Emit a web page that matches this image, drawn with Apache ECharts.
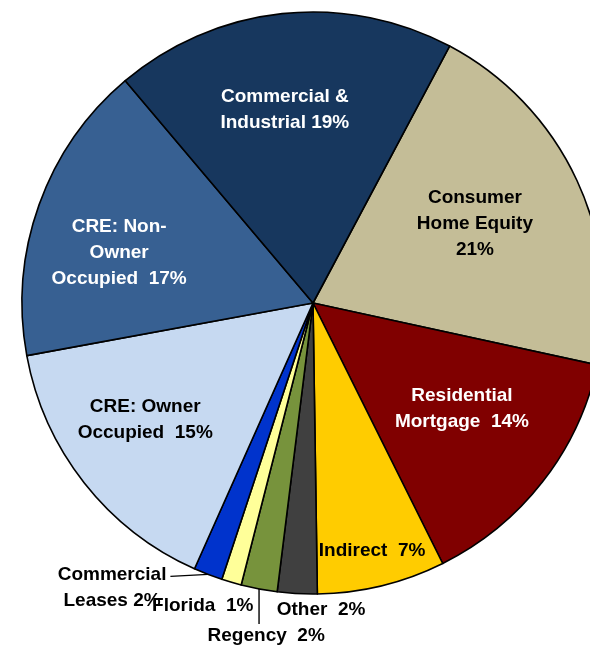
<!DOCTYPE html>
<html>
<head>
<meta charset="utf-8">
<script src="https://cdn.jsdelivr.net/npm/echarts@6/dist/echarts.min.js"></script>
<style>
html,body{margin:0;padding:0;background:#fff;}
#chart{width:590px;height:647px;}
</style>
</head>
<body>
<div id="chart"></div>
<script>
// slices, clockwise from the top-right edge of Commercial & Industrial
var categories = ['Consumer\nHome Equity', 'Residential\nMortgage', 'Indirect', 'Other', 'Regency', 'Florida', 'Commercial\nLeases', 'CRE: Owner\nOccupied', 'CRE: Non-\nOwner\nOccupied', 'Commercial &\nIndustrial'];
var shares = [20.6, 14.2, 7.1, 2.2, 2.0, 1.1, 1.6, 15.4, 16.7, 18.9];
var joiners = ['\n', '  ', '  ', '  ', '  ', '  ', ' ', '  ', '  ', ' '];

var colors = ['#C4BD97', '#800000', '#FFCC00', '#404040', '#77933C', '#FFFF99', '#0033CC', '#C6D9F1', '#376092', '#17375E'];
var textColors = ['#000', '#fff', '#000', '#000', '#000', '#000', '#000', '#000', '#fff', '#fff'];

var cx = 313, cy = 303, R = 291, startDeg = 62;
// label anchor: [fraction of radius, degrees clockwise from top]
var labelSpots = [[0.619, 64.0], [0.628, 125.4], [0.876, 166.6], [1.055, 178.5], [1.156, 188.0], [1.108, 200.0], [1.198, 215.2], [0.703, 235.1], [0.688, 284.5], [0.670, 351.7]];
var leaders = {4: 'down', 6: 'left'};

var total = 0;
for (var i = 0; i < shares.length; i++) total += shares[i];

function midAngle(idx) {
	var before = 0;
	for (var k = 0; k < idx; k++) before += shares[k];
	return (90 - startDeg) + 360 * (before + shares[idx] / 2) / total;
}

var myChart = echarts.init(document.getElementById('chart'));

var data = [];
for (var j = 0; j < categories.length; j++) {
	var outside = labelSpots[j][0] > 1;
	data.push({
		name: categories[j],
		value: shares[j],
		itemStyle: {color: colors[j]},
		label: {position: outside ? 'outside' : 'inside', color: textColors[j]},
		labelLine: {show: leaders[j] != undefined}
	});
}

var option = {
	animation: false,
	series: [{
		type: 'pie',
		center: [cx, cy],
		radius: R,
		startAngle: startDeg,
		clockwise: true,
		silent: true,
		avoidLabelOverlap: false,
		itemStyle: {borderColor: '#000', borderWidth: 1.6},
		label: {
			fontFamily: 'Liberation Sans',
			fontWeight: 'bold',
			fontSize: 19,
			lineHeight: 26,
			align: 'center',
			formatter: function (p) {
				var n = p.name;
				return n + joiners[p.dataIndex] + Math.round(p.percent) + '%';
			}
		},
		labelLine: {lineStyle: {color: '#000', width: 1.4}},
		labelLayout: function (p) {
			var s = labelSpots[p.dataIndex];
			var a = s[1] * Math.PI / 180;
			var x = cx + s[0] * R * Math.sin(a);
			var y = cy - s[0] * R * Math.cos(a);
			var res = {x: x, y: y, align: 'center', verticalAlign: 'middle'};
			var kind = leaders[p.dataIndex];
			if (kind) {
				var m = midAngle(p.dataIndex) * Math.PI / 180;
				var ax = cx + R * Math.sin(m), ay = cy - R * Math.cos(m);
				var w = p.labelRect.width, h = p.labelRect.height;
				var end;
				if (kind == 'left') {
					end = [x + w / 2 + 4, ay + 2];
				} else {
					end = [ax, y - h / 2 + 1];
				}
				res.labelLinePoints = [[ax, ay], end, end];
			}
			return res;
		},
		data: data
	}]
};
myChart.setOption(option);
</script>
</body>
</html>
